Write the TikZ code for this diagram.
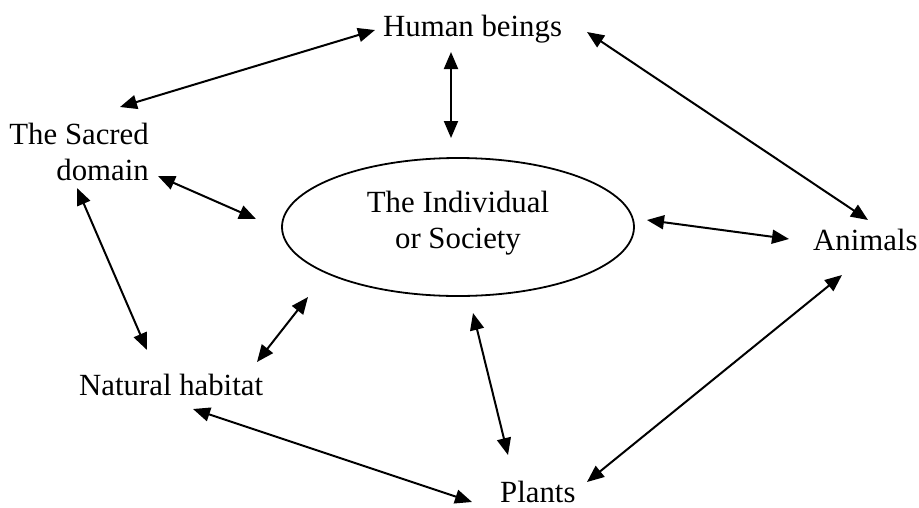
\documentclass[tikz,border=0pt]{standalone}
\usepackage{fontspec}
\setmainfont{Liberation Serif}
\usetikzlibrary{arrows.meta,shapes.geometric}

\begin{document}
\begin{tikzpicture}[x=1pt,y=-1pt,
  label/.style={inner sep=0pt,font=\fontsize{30.8}{36}\selectfont},
  link/.style={line width=2pt,{Triangle[length=17pt,width=14pt]}-{Triangle[length=17pt,width=14pt]}},
  centre/.style={draw,ellipse,line width=1.8pt,inner sep=0pt,
    minimum width=352pt,minimum height=138pt,align=center,text depth=14pt,
    font=\fontsize{30.8}{36}\selectfont}]
  \useasboundingbox (0,0) rectangle (919,507);

  % concepts
  \node[label,anchor=base west] (human) at (383,36) {Human beings};
  \node[label,anchor=base east,align=right] (sacred) at (149,180) {The Sacred\\domain};
  \node[centre] (soc) at (458,227) {The Individual\\or Society};
  \node[label,anchor=base west] (animals) at (813,250) {Animals};
  \node[label,anchor=base west] (natural) at (79,395) {Natural habitat};
  \node[label,anchor=base west] (plants) at (500,502) {Plants};

  % arrow ends
  \coordinate (s-h) at (120,107);  \coordinate (h-s) at (375,30);
  \coordinate (h-c) at (451,52);   \coordinate (c-h) at (451,138);
  \coordinate (h-a) at (587,32);   \coordinate (a-h) at (868,220);
  \coordinate (s-c) at (158,176);  \coordinate (c-s) at (256,219);
  \coordinate (c-a) at (647,220);  \coordinate (a-c) at (789,239);
  \coordinate (s-n) at (77,188);   \coordinate (n-s) at (147,350);
  \coordinate (n-c) at (257,362);  \coordinate (c-n) at (308,297);
  \coordinate (n-p) at (193,409);  \coordinate (p-n) at (472,502);
  \coordinate (c-p) at (473,313);  \coordinate (p-c) at (508,455);
  \coordinate (p-a) at (587,482);  \coordinate (a-p) at (842,275);

  % two-way relations
  \draw[link] (s-h) -- (h-s);
  \draw[link] (h-c) -- (c-h);
  \draw[link] (h-a) -- (a-h);
  \draw[link] (s-c) -- (c-s);
  \draw[link] (c-a) -- (a-c);
  \draw[link] (s-n) -- (n-s);
  \draw[link] (n-c) -- (c-n);
  \draw[link] (n-p) -- (p-n);
  \draw[link] (c-p) -- (p-c);
  \draw[link] (p-a) -- (a-p);
\end{tikzpicture}
\end{document}
